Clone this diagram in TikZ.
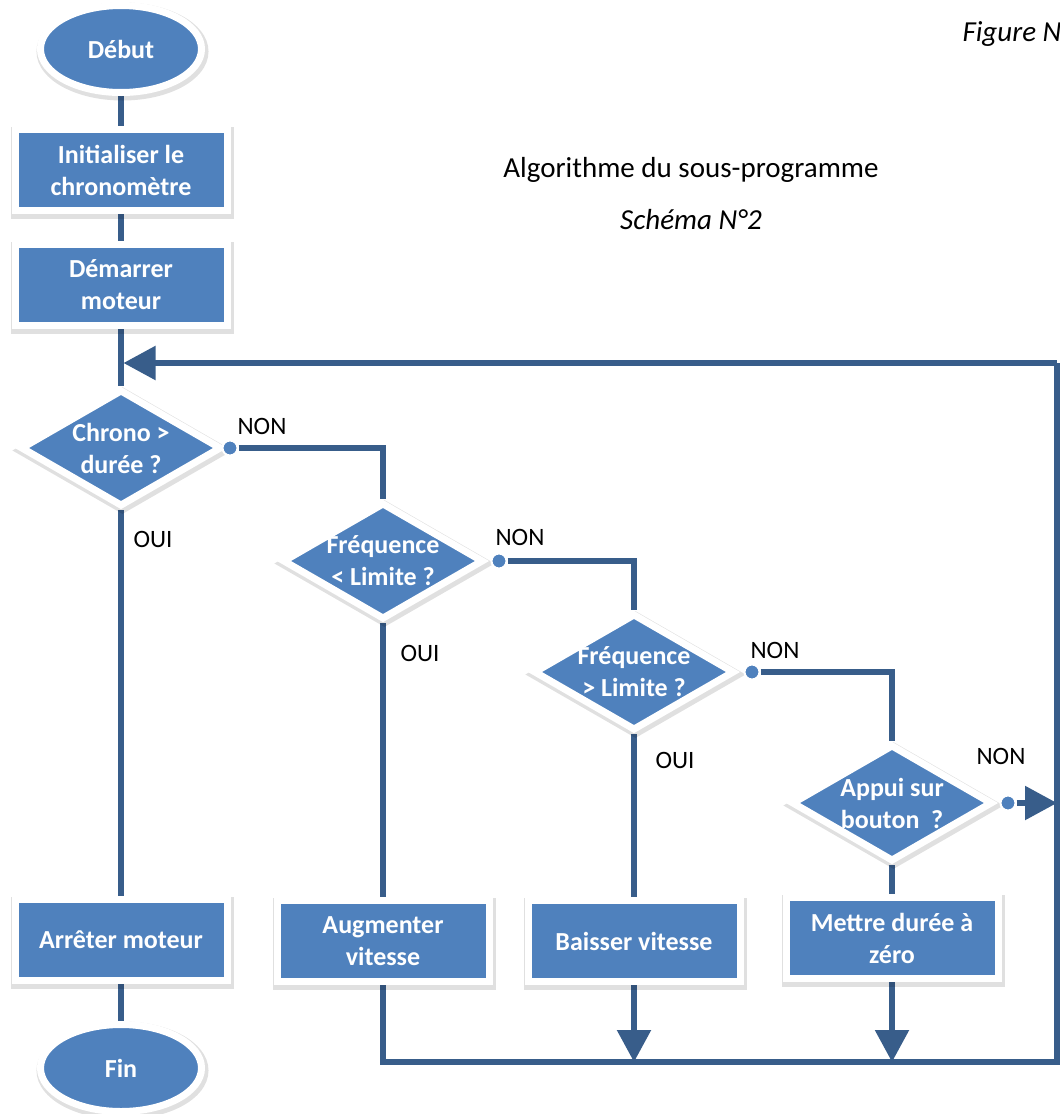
\documentclass[tikz,border=0pt]{standalone}
\usepackage{fontspec}
\setmainfont{Carlito}
\usetikzlibrary{positioning, shapes.geometric, arrows.meta, backgrounds}
\definecolor{boxblue}{HTML}{4F81BD}
\definecolor{lineblue}{HTML}{385D8A}

\begin{document}
\begin{tikzpicture}[x=1pt, y=1pt, on grid,
    every node/.style={font=\fontsize{25}{30}\selectfont},
    boxshadow/.style={preaction={draw=black, draw opacity=.12, line width=11pt,
        transform canvas={shift={(1.5pt,-2.5pt)}}}},
    bluebox/.style={boxshadow, fill=boxblue, draw=white, line width=7pt, text=white,
        align=center, font=\fontsize{26}{32}\selectfont\bfseries},
    terminal/.style={bluebox, ellipse, minimum width=161pt, minimum height=87pt},
    process/.style={bluebox, rectangle, minimum width=212pt, minimum height=81pt},
    decision/.style={bluebox, diamond, inner sep=-15pt, minimum width=201pt, minimum height=117pt},
    port/.style={circle, fill=boxblue, draw=white, line width=2pt, minimum size=15pt, inner sep=0pt},
    link/.style={draw=lineblue, line width=5.5pt},
    tip/.style={-{Triangle[length=32pt, width=33pt]}}]

    \useasboundingbox (0,0) rectangle (1060,-1114);

    % titles
    \node (T) at (691,-170) {\fontsize{29}{35}\selectfont Algorithme du sous-programme};
    \node (S) [below=50pt of T] {\fontsize{29}{35}\selectfont\itshape Schéma N°2};
    \node (FN) [anchor=base west] at (959,-41) {\fontsize{29}{35}\selectfont\itshape Figure N};

    % main column
    \node[terminal] (D) at (121,-49) {Début};
    \node[process] (I) [below=121pt of D] {Initialiser le\\chronomètre};
    \node[process] (M) [below=115pt of I] {Démarrer\\moteur};
    \node[decision] (C1) [below=163pt of M] {Chrono >\\durée ?};
    \node[process] (A) [below=492pt of C1] {Arrêter moteur};
    \node[terminal] (F) [below=128pt of A] {Fin};

    % tests
    \node[decision] (C2) [below right=113pt and 262pt of C1] {Fréquence\\< Limite ?};
    \node[decision] (C3) [below right=111pt and 251pt of C2] {Fréquence\\> Limite ?};
    \node[decision] (C4) [below right=131pt and 258pt of C3] {Appui sur\\bouton\ \ ?};

    \node[process] (AV) [below=380pt of C2] {Augmenter\\vitesse};
    \node[process] (BV) [below=269pt of C3] {Baisser vitesse};
    \node[process] (MZ) [below=135pt of C4] {Mettre durée à\\zéro};

    % NON outputs
    \node[port] (P1) [right=109pt of C1] {};
    \node[port] (P2) [right=116pt of C2] {};
    \node[port] (P3) [right=118pt of C3] {};
    \node[port] (P4) [right=116pt of C4] {};

    \node (N1) [above right=22pt and 32pt of P1] {NON};
    \node (N2) [above right=24pt and 21pt of P2] {NON};
    \node (N3) [above right=22pt and 23pt of P3] {NON};
    \node (N4) [above left=47pt and 7pt of P4] {NON};

    \node (O1) [below right=91pt and 32pt of C1] {OUI};
    \node (O2) [below right=92pt and 37pt of C2] {OUI};
    \node (O3) [below right=88pt and 41pt of C3] {OUI};

    % loop back
    \coordinate[below=78pt of M] (J);
    \coordinate[right=936pt of J] (K);
    \coordinate[below=699pt of K] (R);

    \begin{scope}[on background layer]
        \draw[link] (D) -- (I);
        \draw[link] (I) -- (M);
        \draw[link] (M) -- (C1);
        \draw[link] (C1) -- (A);
        \draw[link] (A) -- (F);

        \draw[link] (P1) -| (C2);
        \draw[link] (C2) -- (AV);
        \draw[link] (P2) -| (C3);
        \draw[link] (C3) -- (BV);
        \draw[link] (P3) -| (C4);
        \draw[link] (C4) -- (MZ);

        \draw[link] (AV) |- (R) -- (K);
        \draw[link, tip] (K) -- ([xshift=2.5pt]J);
        \draw[link, tip] (BV) -- (BV |- R);
        \draw[link, tip] (MZ) -- (MZ |- R);
        \draw[link, tip] (P4) -- (P4 -| K);
    \end{scope}
\end{tikzpicture}
\end{document}
